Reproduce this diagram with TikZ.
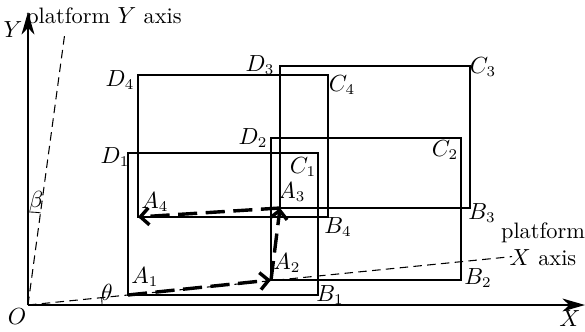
\documentclass[tikz,border=0pt]{standalone}
\usepackage{amsmath}
\usepackage{amssymb}
\usepackage{tikz}
\usetikzlibrary{arrows.meta, positioning, calc}

\tikzset{
    box/.style={line width=0.6pt},
    axis/.style={line width=1.1pt, -{Stealth[length=10.5pt, width=6pt, inset=3pt]}},
    paxis/.style={line width=0.5pt, dash pattern=on 4pt off 2.5pt},
    move/.style={line width=1.6pt, dash pattern=on 9pt off 4pt,
        -{Straight Barb[length=4pt, width=8pt]}},
}

\begin{document}
\begin{tikzpicture}[x=0.47pt, y=0.47pt, font=\fontsize{10.5}{12.5}\selectfont]
    \useasboundingbox (-28,-26) rectangle (557,305);

    % fixed axes
    \coordinate (O) at (0,0);
    \coordinate (Xend) at (557,0);
    \coordinate (Yend) at (0,293);
    \draw[axis] (O) -- (Xend);
    \draw[axis] (O) -- (Yend);
    \node (lX) at (542,-14) {$X$};
    \node (lY) at (-15,275) {$Y$};
    \node (lO) at (-11,-12) {$O$};

    % platform axes
    \coordinate (PX) at (484,48.4);
    \coordinate (PY) at (37,273);
    \draw[paxis] (O) -- (PX);
    \draw[paxis] (O) -- (PY);
    \node[align=center] (lPX) at (515,61) {platform\\$X$ axis};
    \node (lPY) at (76,287) {platform $Y$ axis};
    \draw (74,0) arc[start angle=0, end angle=5.7, radius=74];
    \draw (0,93) arc[start angle=90, end angle=82.3, radius=93];
    \node (lth) at (79,13) {$\theta$};
    \node (lbe) at (8,103) {$\beta$};

    % four positions of the field
    \foreach \i/\x/\y in {1/100/10, 2/243/25, 3/252/97, 4/110/88} {
        \coordinate (A\i) at (\x,\y);
        \coordinate (C\i) at (\x+190,\y+142);
        \draw[box] (A\i) rectangle (C\i);
    }
    \foreach \n/\s/\x/\y in {A/1/117/28, A/2/259/42, A/3/264/113, A/4/127/103,
                             B/1/302/10, B/2/450/27, B/3/454/92, B/4/310/78,
                             C/1/275/138, C/2/417/155, C/3/455/238, C/4/314/220,
                             D/1/87/148, D/2/225/167, D/3/232/240, D/4/92/225}
        \node (l\n\s) at (\x,\y) {$\n_\s$};

    % movement
    \draw[move] (A1) -- (A2);
    \draw[move] (A2) -- (A3);
    \draw[move] (A3) -- (A4);
\end{tikzpicture}
\end{document}
